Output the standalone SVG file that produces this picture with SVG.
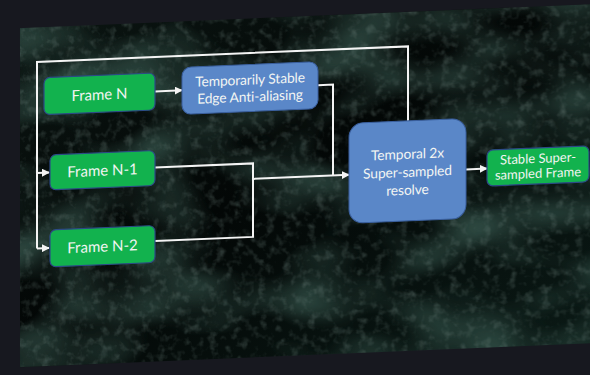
<svg xmlns="http://www.w3.org/2000/svg" width="590" height="375" viewBox="0 0 590 375">
  <defs>
    <style>
      .frame { fill: #12b24e; stroke: #2c4a86; stroke-width: 1.2; }
      .proc { fill: #5a87c8; stroke: #3a5f9e; stroke-width: 1; }
      .lbl { fill: #f2f5f3; font-family: Lato, "Open Sans", "Liberation Sans", sans-serif; font-size: 15px; text-anchor: middle; }
      .lbl-p { font-size: 13.8px; letter-spacing: -0.1px; }
      .lbl-s { font-size: 13px; }
      .wire { fill: none; stroke: #f4f4f4; stroke-width: 2; stroke-linejoin: miter; }
      .arrow { marker-end: url(#head); }
    </style>
    <marker id="head" viewBox="0 0 10 10" refX="9" refY="5" markerWidth="4" markerHeight="4" orient="auto" markerUnits="strokeWidth">
      <path d="M0,0 L10,5 L0,10 z" fill="#f4f4f4"/>
    </marker>
    <!-- fine speckle over the backdrop -->
    <filter id="speckle" x="0" y="0" width="100%" height="100%">
      <feTurbulence type="fractalNoise" baseFrequency="0.12" numOctaves="3" seed="3" result="n"/>
      <feColorMatrix in="n" type="matrix" values="0 0 0 0 0.16  0 0 0 0 0.23  0 0 0 0 0.21  1.8 0 0 0 -0.88" result="c"/>
      <feComposite in="c" in2="SourceGraphic" operator="in"/>
    </filter>
    <!-- broad soft patches -->
    <filter id="patches" x="0" y="0" width="100%" height="100%">
      <feTurbulence type="fractalNoise" baseFrequency="0.01 0.018" numOctaves="2" seed="11" result="n"/>
      <feColorMatrix in="n" type="matrix" values="0 0 0 0 0.06  0 0 0 0 0.15  0 0 0 0 0.12  1.4 0 0 0 -0.55" result="c"/>
      <feComposite in="c" in2="SourceGraphic" operator="in"/>
    </filter>
    <linearGradient id="panelShade" x1="0" y1="0" x2="1" y2="1">
      <stop offset="0" stop-color="#0b1512"/>
      <stop offset="0.45" stop-color="#030706"/>
      <stop offset="1" stop-color="#0b1a16"/>
    </linearGradient>
  </defs>

  <!-- room around the slide -->
  <rect x="0" y="0" width="590" height="375" fill="#17181f"/>

  <g transform="skewY(-2.4)">
    <!-- slide backdrop -->
    <g id="backdrop">
      <rect x="20" y="29" width="590" height="339" fill="url(#panelShade)"/>
      <rect x="20" y="29" width="590" height="339" fill="#000" filter="url(#patches)"/>
      <rect x="20" y="29" width="590" height="339" fill="#000" filter="url(#speckle)" opacity="0.5"/>
    </g>

    <!-- connectors -->
    <g id="connectors">
      <path class="wire" d="M408,138 V63.5 H37 V250"/>
      <path class="wire arrow" d="M37,174.5 H49"/>
      <path class="wire arrow" d="M37,250 H49"/>
      <path class="wire arrow" d="M155,98 H182"/>
      <path class="wire" d="M318,98.5 H333 V189.5"/>
      <path class="wire" d="M155,174 H253 V247.5 H155"/>
      <path class="wire arrow" d="M253,189.5 H349"/>
      <path class="wire arrow" d="M466,189 H487"/>
    </g>

    <g id="frame-n">
      <rect class="frame" x="44" y="79.5" width="111" height="37" rx="6"/>
      <text class="lbl" x="99.5" y="104">Frame N</text>
    </g>

    <g id="edge-aa">
      <rect class="proc" x="182" y="75" width="136" height="47" rx="9"/>
      <text class="lbl lbl-p" x="250" y="95">Temporarily Stable</text>
      <text class="lbl lbl-p" x="250" y="112">Edge Anti-aliasing</text>
    </g>

    <g id="frame-n-1">
      <rect class="frame" x="50" y="157" width="105" height="35" rx="6"/>
      <text class="lbl" x="102.5" y="180">Frame N-1</text>
    </g>

    <g id="frame-n-2">
      <rect class="frame" x="50" y="232" width="105" height="37" rx="6"/>
      <text class="lbl" x="102.5" y="256">Frame N-2</text>
    </g>

    <g id="resolve">
      <rect class="proc" x="349" y="138" width="117" height="100" rx="14"/>
      <text class="lbl lbl-p" x="407.5" y="176">Temporal 2x</text>
      <text class="lbl lbl-p" x="407.5" y="194">Super-sampled</text>
      <text class="lbl lbl-p" x="407.5" y="212">resolve</text>
    </g>

    <g id="stable-frame">
      <rect class="frame" x="487" y="170.5" width="102" height="36" rx="6"/>
      <text class="lbl lbl-s" x="538" y="185.5">Stable Super-</text>
      <text class="lbl lbl-s" x="538" y="200.5">sampled Frame</text>
    </g>
  </g>
</svg>
